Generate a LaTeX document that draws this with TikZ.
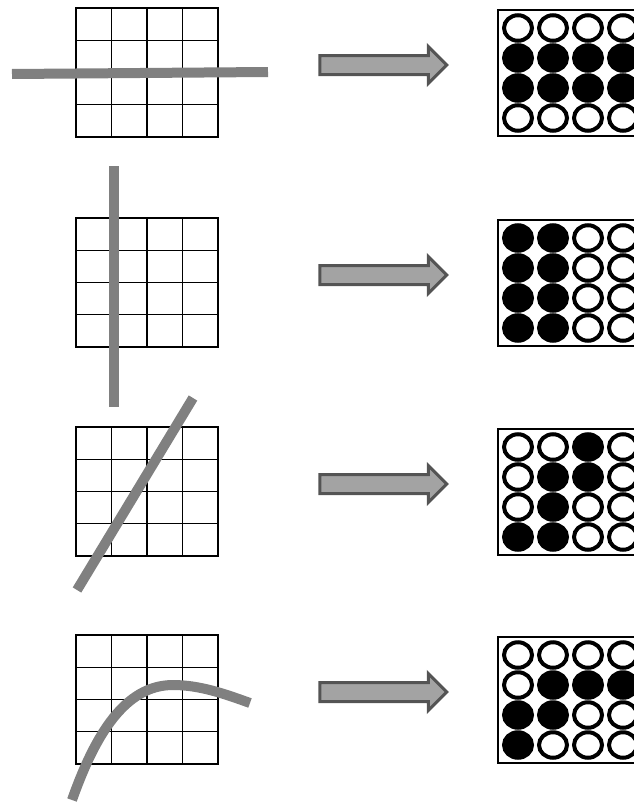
\documentclass[tikz,border=0pt]{standalone}
\usepackage{xstring}
\usetikzlibrary{shapes.arrows,shapes.geometric}
\definecolor{bargray}{gray}{0.5}
\definecolor{arrowfill}{gray}{0.64}
\definecolor{arrowedge}{gray}{0.33}
\begin{document}
\begin{tikzpicture}[x=1pt,y=-1pt,
		gridline/.style={line width=1.3pt, black},
		bar/.style={line width=10pt, draw=bargray},
		boxframe/.style={line width=2pt, black},
		dot/.style={ellipse, draw=black, line width=4pt, minimum width=28pt, minimum height=25.5pt, inner sep=0pt},
		blockarrow/.style={single arrow, draw=arrowedge, fill=arrowfill, line width=3pt, inner xsep=0pt, inner ysep=8pt, minimum height=127pt, single arrow head extend=9pt}]
	\clip (0,0) rectangle (634,803);
	% grilles, fleches et cadres
	\foreach \t/\bits [count=\r] in {8/0000111111110000, 218/1100110011001100, 427/0010011001001100, 635/0000011111001000} {
		\draw[gridline] (76,\t) rectangle (218,\t+129);
		\foreach \i in {1,2,3} {
			\draw[gridline] (76+35.5*\i,\t) -- (76+35.5*\i,\t+129);
			\draw[gridline] (76,\t+32.25*\i) -- (218,\t+32.25*\i);
		}
		\node[blockarrow] (fleche\r) at (378.5,\t+57) {};
		\draw[boxframe] (498,\t+2) rectangle (660,\t+128);
		\foreach \i in {0,...,3}
			\foreach \j in {0,...,3} {
				\pgfmathtruncatemacro\k{4*\i+\j+1}
				\StrChar{\bits}{\k}[\bit]
				\ifnum\bit=1 \def\dotfill{black}\else\def\dotfill{white}\fi
				\node[dot, fill=\dotfill] (c\r-\i-\j) at (518+35*\j,\t+20+30*\i) {};
			}
	}
	% droites et courbe
	\draw[bar] (12,74) -- (268,72);
	\draw[bar] (114,166) -- (114,407);
	\draw[bar] (77,590) -- (193,398);
	\draw[bar] (72,800) .. controls (95,735) and (125,685) .. (173,685) .. controls (200,685) and (225,694) .. (250,703);
\end{tikzpicture}
\end{document}
